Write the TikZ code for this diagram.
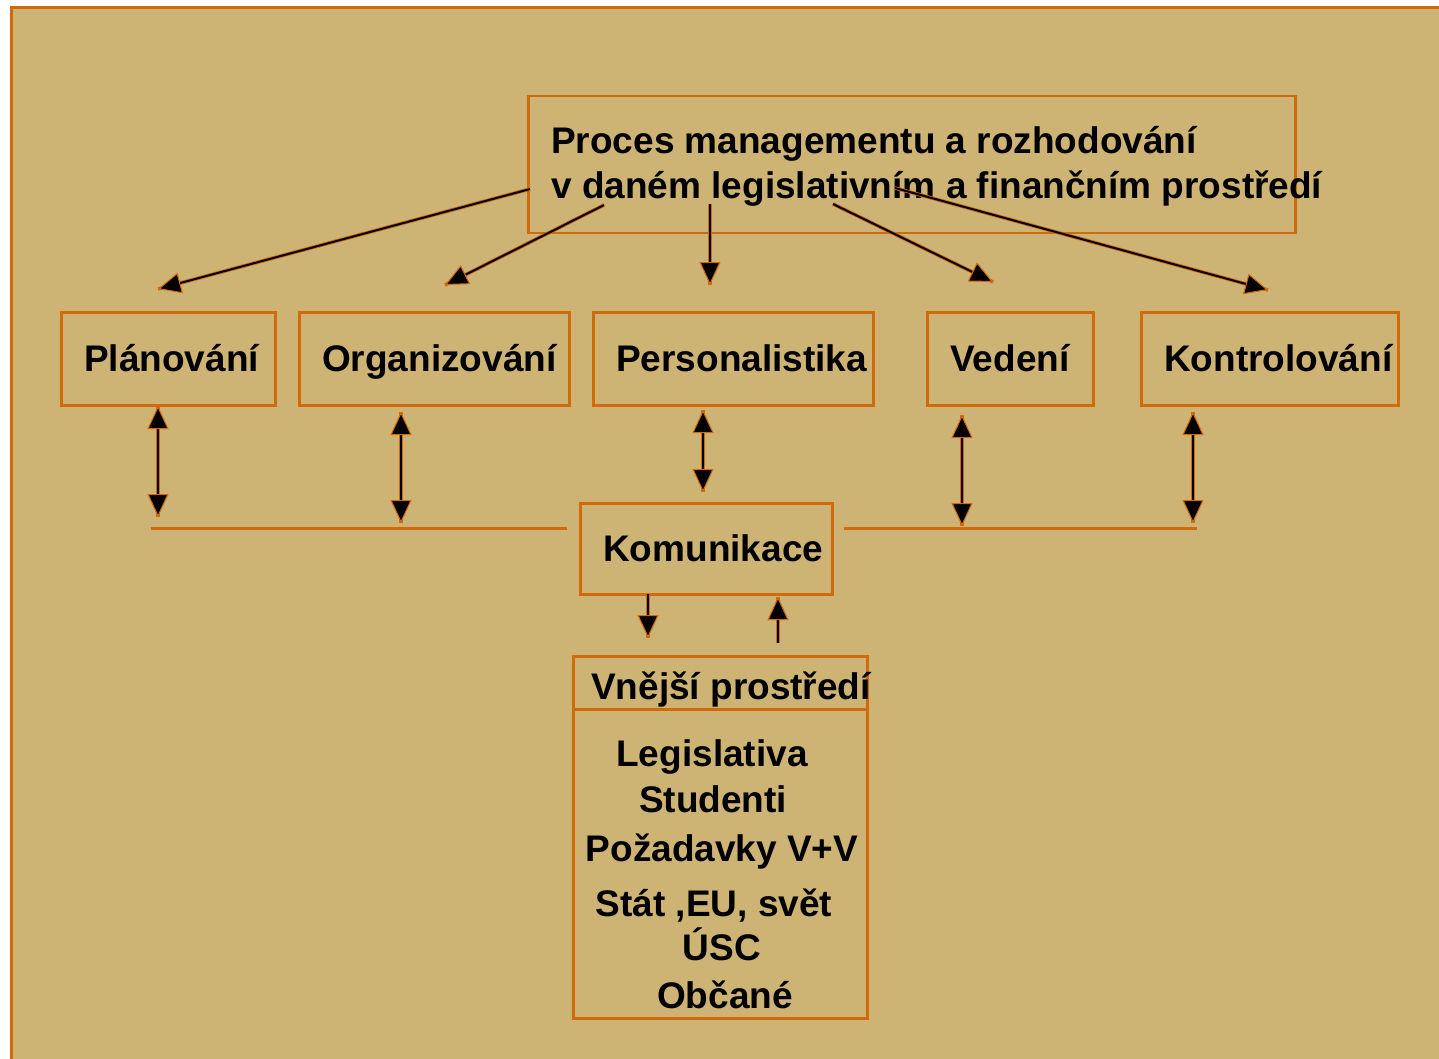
\documentclass[tikz,border=0pt]{standalone}
\usepackage{fontspec}
\setmainfont{Liberation Sans}
\usetikzlibrary{arrows.meta}
\definecolor{tanbg}{RGB}{205,179,116}
\definecolor{orng}{RGB}{208,106,10}
\begin{document}
\begin{tikzpicture}[x=1pt,y=-1pt,
  box/.style={draw=orng, line width=2.5pt, inner sep=0pt, anchor=north west},
  lbl/.style={font=\fontsize{37}{44}\selectfont\bfseries, inner sep=0pt, text=black},
  halo/.style={preaction={draw=orng, line width=3.6pt, arrows=-}},
  arr/.style={halo, line width=2pt, -{Triangle[length=23pt,width=21pt,fill=black,color=orng,line width=1pt]}},
  darr/.style={halo, line width=2pt, {Triangle[length=23pt,width=21pt,fill=black,color=orng,line width=1pt]}-{Triangle[length=23pt,width=21pt,fill=black,color=orng,line width=1pt]}},
  hline/.style={draw=orng, line width=3pt}]
\useasboundingbox (0,0) rectangle (1439,1059);
\fill[white] (0,0) rectangle (1439,1059);
\filldraw[fill=tanbg, draw=orng, line width=3pt] (11,8) rectangle (1460,1080);

% boxes
\node[box, minimum width=767pt, minimum height=137pt] (top) at (527,95) {};
\node[box, minimum width=214pt, minimum height=93pt] (plan) at (60,311) {};
\node[box, minimum width=270pt, minimum height=93pt] (org) at (298,311) {};
\node[box, minimum width=280pt, minimum height=93pt] (pers) at (592,311) {};
\node[box, minimum width=166pt, minimum height=93pt] (ved) at (926,311) {};
\node[box, minimum width=257pt, minimum height=93pt] (kon) at (1140,311) {};
\node[box, minimum width=252pt, minimum height=91pt] (kom) at (579,502) {};
\node[box, minimum width=294pt, minimum height=53pt] (vnh) at (572,655) {};
\node[box, minimum width=294pt, minimum height=309pt] (vnb) at (572,708) {};

% texts
\node[lbl, anchor=base west] (t1) at (551,154) {Proces managementu a rozhodování};
\node[lbl, anchor=base west] (t2) at (551,199) {v daném legislativním a finančním prostředí};
\node[lbl, anchor=base west] (tplan) at (84,371) {Plánování};
\node[lbl, anchor=base west] (torg) at (322,371) {Organizování};
\node[lbl, anchor=base west] (tpers) at (616,371) {Personalistika};
\node[lbl, anchor=base west] (tved) at (950,371) {Vedení};
\node[lbl, anchor=base west] (tkon) at (1164,371) {Kontrolování};
\node[lbl, anchor=base west] (tkom) at (603,561) {Komunikace};
\node[lbl, anchor=base west] (tvn) at (591,699) {Vnější prostředí};
\node[lbl, anchor=base] (l1) at (712,766) {Legislativa};
\node[lbl, anchor=base] (l2) at (713,812) {Studenti};
\node[lbl, anchor=base] (l3) at (722,861) {Požadavky V+V};
\node[lbl, anchor=base] (l4) at (714,916) {Stát ,EU, svět};
\node[lbl, anchor=base] (l5) at (722,960) {ÚSC};
\node[lbl, anchor=base] (l6) at (725,1008) {Občané};

% arrows from the top box
\coordinate (s1) at (530,189); \coordinate (e1) at (158,289);
\coordinate (s2) at (604,205); \coordinate (e2) at (445,285);
\coordinate (s3) at (710,204); \coordinate (e3) at (710,285);
\coordinate (s4) at (833,204); \coordinate (e4) at (993,282);
\coordinate (s5) at (895,188); \coordinate (e5) at (1268,290);
\draw[arr] (s1) -- (e1);
\draw[arr] (s2) -- (e2);
\draw[arr] (s3) -- (e3);
\draw[arr] (s4) -- (e4);
\draw[arr] (s5) -- (e5);

% communication line
\coordinate (hl1) at (151,528); \coordinate (hl2) at (567,528);
\coordinate (hr1) at (844,528); \coordinate (hr2) at (1197,528);
\draw[hline] (hl1) -- (hl2);
\draw[hline] (hr1) -- (hr2);

% double arrows
\coordinate (d1a) at (158,406); \coordinate (d1b) at (158,517);
\coordinate (d2a) at (401,412); \coordinate (d2b) at (401,523);
\coordinate (d3a) at (703,410); \coordinate (d3b) at (703,492);
\coordinate (d4a) at (962,415); \coordinate (d4b) at (962,526);
\coordinate (d5a) at (1193,412); \coordinate (d5b) at (1193,523);
\draw[darr] (d1a) -- (d1b);
\draw[darr] (d2a) -- (d2b);
\draw[darr] (d3a) -- (d3b);
\draw[darr] (d4a) -- (d4b);
\draw[darr] (d5a) -- (d5b);

% komunikace <-> vnejsi prostredi
\coordinate (k1a) at (648,594); \coordinate (k1b) at (648,638);
\coordinate (k2a) at (778,643); \coordinate (k2b) at (778,597);
\draw[arr] (k1a) -- (k1b);
\draw[arr] (k2a) -- (k2b);
\end{tikzpicture}
\end{document}
